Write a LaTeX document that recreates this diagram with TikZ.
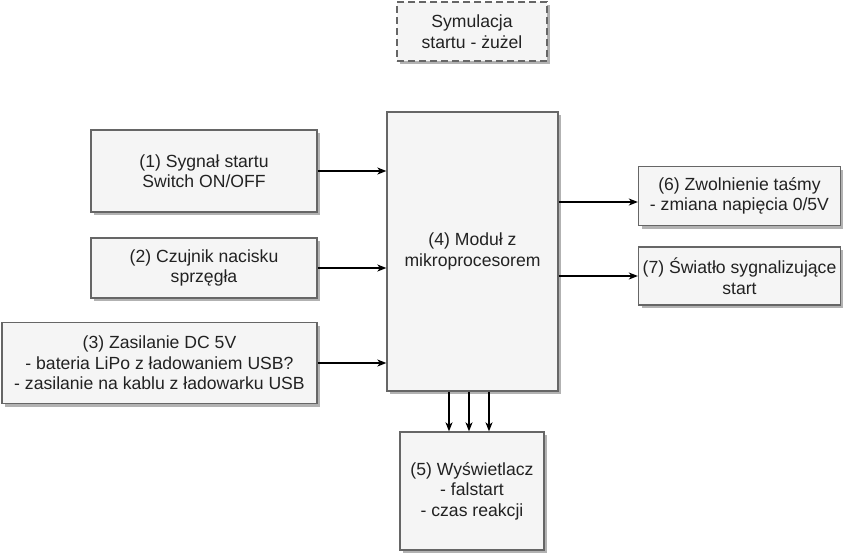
\documentclass[tikz,border=0pt]{standalone}
\usepackage{fontspec}
\setmainfont{Liberation Sans}
\usetikzlibrary{arrows.meta,shadows}
\definecolor{boxfill}{HTML}{F5F5F5}
\definecolor{boxline}{HTML}{666666}
\definecolor{txt}{HTML}{222222}
\tikzset{
  blockbox/.style={draw=boxline, fill=boxfill, line width=1.3pt, inner sep=0pt,
    align=center, text=txt, font=\fontsize{17.6}{20.5}\selectfont,
    drop shadow={shadow xshift=3pt, shadow yshift=-3pt, fill=black!50, opacity=0.6}},
  titlebox/.style={blockbox, dash pattern=on 7pt off 4pt},
  conn/.style={draw=black, line width=1.3pt, -{Stealth[length=9pt,width=7pt,inset=2.5pt]}}
}
\begin{document}
\begin{tikzpicture}[x=1pt,y=-1pt]
\useasboundingbox (0,0) rectangle (843,555);
\fill[white] (0,0) rectangle (843,555);

\node[titlebox, minimum width=150pt, minimum height=59pt] (title) at (472,31.5) {Symulacja\\startu - żużel};

\node[blockbox, minimum width=226pt, minimum height=82pt] (b1) at (204,171) {(1) Sygnał startu\\Switch ON/OFF};
\node[blockbox, minimum width=226pt, minimum height=60pt] (b2) at (204,268) {(2) Czujnik nacisku\\sprzęgła};
\node[blockbox, minimum width=315pt, minimum height=81pt] (b3) at (159.5,363) {(3) Zasilanie DC 5V\\- bateria LiPo z ładowaniem USB?\\- zasilanie na kablu z ładowarku USB};
\node[blockbox, minimum width=171pt, minimum height=279pt] (b4) at (472.5,251.5) {(4) Moduł z\\mikroprocesorem};
\node[blockbox, minimum width=144pt, minimum height=118pt] (b5) at (472,491) {(5) Wyświetlacz\\- falstart\\- czas reakcji};
\node[blockbox, minimum width=202pt, minimum height=59pt] (b6) at (739.5,196) {(6) Zwolnienie taśmy\\- zmiana napięcia 0/5V};
\node[blockbox, minimum width=202pt, minimum height=58pt] (b7) at (739.5,276) {(7) Światło sygnalizujące\\start};

\coordinate (r6) at (0,202);
\coordinate (d1) at (449,0);
\coordinate (d2) at (469,0);
\coordinate (d3) at (489,0);

\draw[conn] (b1.east) -- (b1.east -| b4.west);
\draw[conn] (b2.east) -- (b2.east -| b4.west);
\draw[conn] (b3.east) -- (b3.east -| b4.west);
\draw[conn] (b4.east |- r6) -- (b6.west |- r6);
\draw[conn] (b4.east |- b7.west) -- (b7.west);
\draw[conn] (b4.south -| d1) -- (b5.north -| d1);
\draw[conn] (b4.south -| d2) -- (b5.north -| d2);
\draw[conn] (b4.south -| d3) -- (b5.north -| d3);
\end{tikzpicture}
\end{document}
